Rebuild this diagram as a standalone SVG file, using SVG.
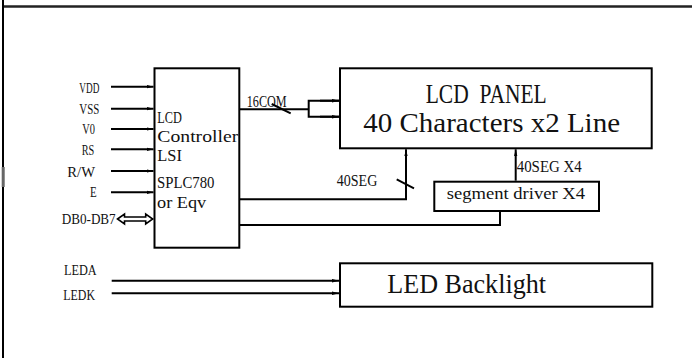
<svg xmlns="http://www.w3.org/2000/svg" width="692" height="358" viewBox="0 0 692 358">
<style>
text{font-family:"Liberation Serif","Times New Roman",serif;fill:#111}
.s{font-size:15px}
.m{font-size:17px}
.l{font-size:27px}
.box{fill:#fff;stroke:#000;stroke-width:2}
.w{fill:none;stroke:#000;stroke-width:2}
.p{fill:none;stroke:#000;stroke-width:2;marker-end:url(#ah)}
</style>
<defs>
<marker id="ah" markerWidth="7" markerHeight="5" refX="7" refY="2.5" orient="auto" markerUnits="userSpaceOnUse">
<path d="M0,0.8 L7,2.5 L0,4.2z" fill="#000"/>
</marker>
</defs>
<rect width="692" height="358" fill="#fff"/>
<g id="frame">
<line x1="2" y1="6.5" x2="692" y2="6.5" stroke="#222" stroke-width="2.5"/>
<line x1="3" y1="0" x2="3" y2="358" stroke="#000" stroke-width="2"/>
<rect x="1.7" y="167" width="3" height="20" fill="#666"/>
</g>
<g id="controller">
<rect class="box" x="154.5" y="68.3" width="84.8" height="179.4"/>
<text class="m" x="157.3" y="122.7" textLength="24.6" lengthAdjust="spacingAndGlyphs">LCD</text>
<text class="m" x="157.3" y="141.7" textLength="81" lengthAdjust="spacingAndGlyphs">Controller</text>
<text class="m" x="157.3" y="160.7" textLength="24.6" lengthAdjust="spacingAndGlyphs">LSI</text>
<text class="m" x="157" y="188.3" textLength="57.4" lengthAdjust="spacingAndGlyphs">SPLC780</text>
<text class="m" x="157" y="207.5" textLength="49.2" lengthAdjust="spacingAndGlyphs">or Eqv</text>
</g>
<g id="panel">
<rect class="box" x="340" y="68.3" width="311.7" height="80"/>
<text class="l" x="425.7" y="103.3" textLength="121" lengthAdjust="spacingAndGlyphs" xml:space="preserve">LCD  PANEL</text>
<text class="l" x="363.3" y="131.7" textLength="256.7" lengthAdjust="spacingAndGlyphs">40 Characters x2 Line</text>
</g>
<g id="segdriver">
<rect class="box" x="434.3" y="181.7" width="164.7" height="29.3"/>
<text class="m" x="446.7" y="198.5" textLength="138.3" lengthAdjust="spacingAndGlyphs">segment driver X4</text>
</g>
<g id="backlight">
<rect class="box" x="340" y="263.3" width="312.3" height="43.4"/>
<text class="l" x="387.3" y="293.3" textLength="158.7" lengthAdjust="spacingAndGlyphs">LED Backlight</text>
</g>
<g id="pins">
<text class="s" x="79.3" y="93.3" textLength="20" lengthAdjust="spacingAndGlyphs">VDD</text>
<text class="s" x="79.3" y="114.3" textLength="20" lengthAdjust="spacingAndGlyphs">VSS</text>
<text class="s" x="82.3" y="134" textLength="12.7" lengthAdjust="spacingAndGlyphs">V0</text>
<text class="s" x="81.7" y="155" textLength="12.6" lengthAdjust="spacingAndGlyphs">RS</text>
<text class="s" x="67.3" y="176.7" textLength="27.7" lengthAdjust="spacingAndGlyphs">R/W</text>
<text class="s" x="90" y="197.3" textLength="6.7" lengthAdjust="spacingAndGlyphs">E</text>
<text class="s" x="61.7" y="224" textLength="54" lengthAdjust="spacingAndGlyphs">DB0-DB7</text>
<text class="s" x="64" y="275.3" textLength="32.7" lengthAdjust="spacingAndGlyphs">LEDA</text>
<text class="s" x="63.3" y="300" textLength="31.7" lengthAdjust="spacingAndGlyphs">LEDK</text>
</g>
<g id="connectors">
<line class="p" x1="111" y1="86.7" x2="153.5" y2="86.7"/>
<line class="p" x1="111" y1="108.7" x2="153.5" y2="108.7"/>
<line class="p" x1="111" y1="129" x2="153.5" y2="129"/>
<line class="p" x1="111" y1="149.3" x2="153.5" y2="149.3"/>
<line class="p" x1="111" y1="171" x2="153.5" y2="171"/>
<line class="p" x1="111" y1="192.3" x2="153.5" y2="192.3"/>
<path d="M117.5,219 L124.5,214 L124.5,217 L145.7,217 L145.7,214 L152.7,219 L145.7,224 L145.7,221 L124.5,221 L124.5,224 Z" fill="#fff" stroke="#000" stroke-width="1.6"/>
<text class="m" x="246.7" y="106.7" textLength="40" lengthAdjust="spacingAndGlyphs">16COM</text>
<polyline class="w" points="239.3,109.3 308.7,109.3"/>
<line class="w" x1="271.7" y1="104" x2="290.7" y2="113.3"/>
<polyline class="w" points="339,100.7 308.7,100.7 308.7,116.7 339,116.7"/>
<line class="p" x1="320" y1="100.7" x2="339" y2="100.7"/>
<line class="p" x1="320" y1="116.7" x2="339" y2="116.7"/>
<text class="m" x="336.7" y="185.7" textLength="40.6" lengthAdjust="spacingAndGlyphs">40SEG</text>
<polyline class="w" points="239.3,199.3 406,199.3 406,170"/>
<line class="p" x1="406" y1="175" x2="406" y2="149.3"/>
<line class="w" x1="396.7" y1="179.3" x2="414" y2="188.3"/>
<text class="m" x="516.7" y="171.7" textLength="65" lengthAdjust="spacingAndGlyphs">40SEG X4</text>
<line class="p" x1="515.7" y1="180.7" x2="515.7" y2="149.3"/>
<polyline class="w" points="239.3,225 500,225 500,211"/>
<line class="p" x1="111.7" y1="280.7" x2="339" y2="280.7"/>
<line class="p" x1="111.7" y1="293.3" x2="339" y2="293.3"/>
</g>
</svg>
